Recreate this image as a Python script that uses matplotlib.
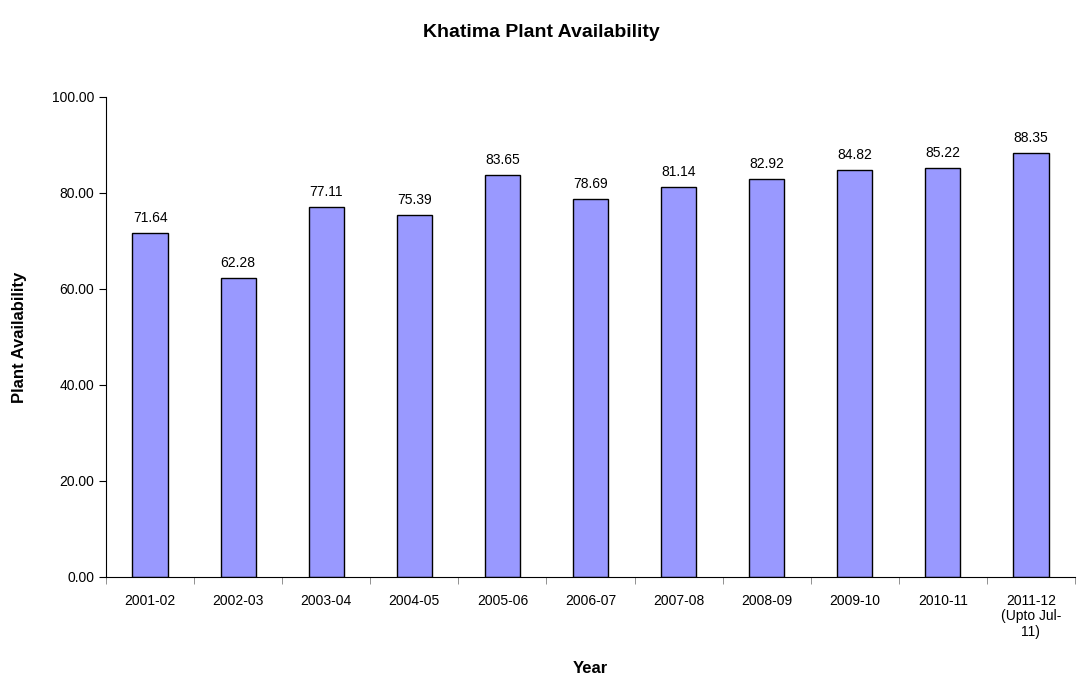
import matplotlib.pyplot as plt
import numpy as np

plt.rcParams['font.family'] = ['Liberation Sans', 'DejaVu Sans']

years = ['2001-02', '2002-03', '2003-04', '2004-05', '2005-06', '2006-07',
         '2007-08', '2008-09', '2009-10', '2010-11', '2011-12\n(Upto Jul-\n11)']
availability = [71.64, 62.28, 77.11, 75.39, 83.65, 78.69,
                81.14, 82.92, 84.82, 85.22, 88.35]

fig = plt.figure(figsize=(10.82, 6.78), dpi=100)
ax = fig.add_axes([0.098, 0.149, 0.8955, 0.708])

x = np.arange(len(years))
bars = ax.bar(x, availability, width=0.40, color='#9999FF',
              edgecolor='black', linewidth=1.0, zorder=2)

# value labels above bars
for xi, v in zip(x, availability):
    ax.text(xi, v + 1.7, f'{v:.2f}', ha='center', va='bottom', fontsize=10)

ax.set_xlim(-0.5, len(years) - 0.5)
ax.set_ylim(0, 100)
ax.set_yticks(np.arange(0, 101, 20))
ax.set_yticklabels([f'{t:.2f}' for t in np.arange(0, 101, 20)], fontsize=10)

# category labels at centres, tick marks at boundaries
ax.set_xticks(x)
ax.set_xticklabels(years, fontsize=10, linespacing=1.15)
ax.tick_params(axis='x', which='major', length=0, pad=12)
ax.set_xticks(np.arange(-0.5, len(years), 1), minor=True)
ax.tick_params(axis='x', which='minor', length=5, direction='out', color='gray')
ax.tick_params(axis='y', length=5, direction='out')

for s in ['top', 'right']:
    ax.spines[s].set_visible(False)

ax.set_xlabel('Year', fontsize=12, fontweight='bold')
ax.xaxis.set_label_coords(0.5, -0.175)
ax.set_ylabel('Plant Availability', fontsize=12, fontweight='bold', labelpad=18)
fig.suptitle('Khatima Plant Availability', fontsize=14, fontweight='bold', y=0.964)

plt.savefig('out.png', dpi=100)
plt.close()
